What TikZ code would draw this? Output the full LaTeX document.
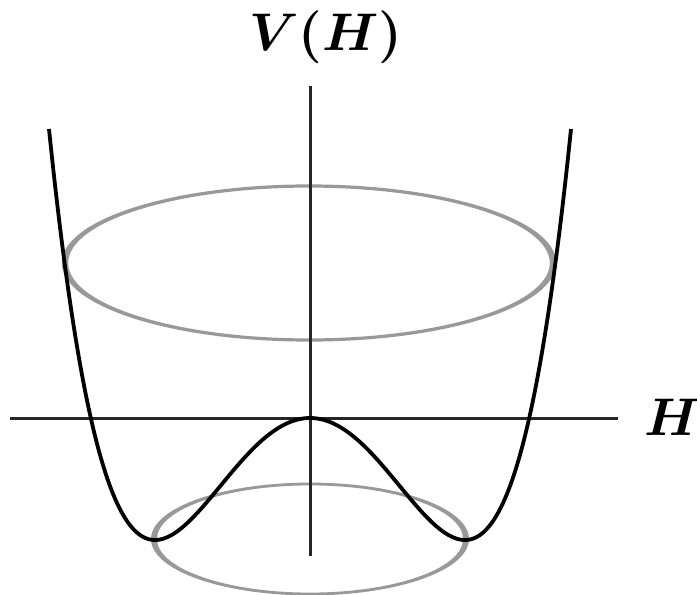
\documentclass[tikz,border=0pt]{standalone}
\usepackage{graphicx}
\usepackage{amsmath}
\begin{document}
\begin{tikzpicture}[x=1pt,y=-1pt,
  axis/.style={line width=3pt,color=black!85},
  curve/.style={line width=3.8pt,color=black},
  ring/.style={fill=black!40,even odd rule},
  lbl/.style={font=\boldmath,inner sep=0pt}]
\useasboundingbox (0,0) rectangle (697,595);
% rings (variable stroke: thick at sides, thin at top/bottom)
\fill[ring] (309,263) ellipse [x radius=247.2, y radius=78.6]
            (309,263) ellipse [x radius=240.8, y radius=75.4];
\fill[ring] (310,539) ellipse [x radius=159, y radius=56.4]
            (310,539) ellipse [x radius=153, y radius=53.6];
% axes
\coordinate (xl) at (10,418);
\coordinate (xr) at (618,418);
\coordinate (yb) at (310,556);
\coordinate (yt) at (310,86);
\draw[axis] (xl) -- (xr);
\draw[axis] (yb) -- (yt);
% potential
\draw[curve,line join=round] plot[domain=-261:261,samples=241,smooth]
  ({310+\x},{540-122*((\x/155)^2-1)^2});
% labels
\node[lbl,anchor=base] (vh) at (326,50) {\scalebox{5.3}{$V(H)$}};
\node[lbl,anchor=base] (h) at (673,435) {\scalebox{5.3}{$H$}};
\end{tikzpicture}
\end{document}
